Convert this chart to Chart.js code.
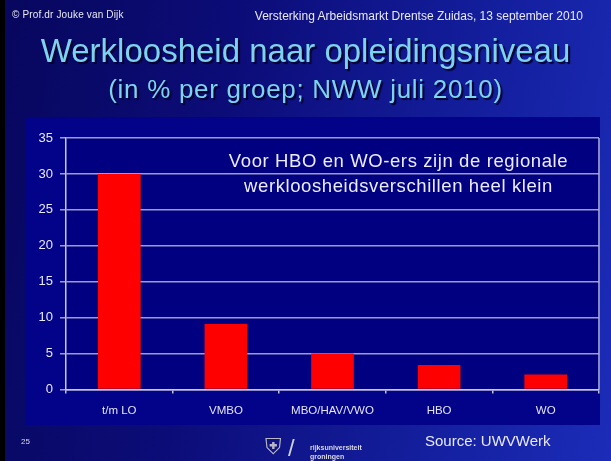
<!DOCTYPE html>
<html>
<head>
<meta charset="utf-8">
<script src="https://cdn.jsdelivr.net/npm/chart.js@4/dist/chart.umd.min.js"></script>
<style>
  html,body{margin:0;padding:0;}
  body{width:611px;height:461px;overflow:hidden;position:relative;font-family:"Liberation Sans",Arial,sans-serif;
    background:linear-gradient(100deg,#07075e 0%,#0c0c78 35%,#1420a0 75%,#1c2cb8 100%);}
  #strip{position:absolute;left:0;top:0;width:5px;height:461px;background:#000;}
  #panel{position:absolute;left:25px;top:117px;width:575px;height:308px;background:#03038a;}
  canvas{position:absolute;left:0;top:0;}
  .t{position:absolute;white-space:nowrap;}
  #hl{left:12px;top:9px;font-size:10px;letter-spacing:0.15px;color:#e8e8f4;}
  #hr{right:28px;top:9px;font-size:12px;color:#e8e8f4;}
  #t1{left:0;width:611px;text-align:center;top:34px;font-size:33px;line-height:33px;color:#7dd3ee;text-shadow:2px 2px 1px #000030;}
  #t2{left:0;width:611px;text-align:center;top:76px;font-size:26px;line-height:26px;letter-spacing:0.7px;color:#7dd3ee;text-shadow:2px 2px 1px #000030;}
  #note{left:190px;width:417px;text-align:center;top:148px;font-size:18.5px;line-height:25px;letter-spacing:0.6px;color:#ececff;}
  #pg{left:21px;top:437px;font-size:8px;color:#d8d8f0;}
  #src{left:425px;top:432px;font-size:15px;color:#e8e8ff;}
  #shield{left:265px;top:436px;font-size:22px;line-height:22px;color:#b8b8c4;}
  #slash{left:288px;top:436px;font-size:24px;line-height:24px;color:#d0d0dc;}
  #lt{left:310px;top:443px;font-size:7px;line-height:9px;font-weight:bold;color:#d8d8e4;}
</style>
</head>
<body>
<div id="strip"></div>
<div id="panel"></div>
<canvas id="c" width="611" height="461"></canvas>
<div class="t" id="hl">© Prof.dr Jouke van Dijk</div>
<div class="t" id="hr">Versterking Arbeidsmarkt Drentse Zuidas, 13 september 2010</div>
<div class="t" id="t1">Werkloosheid naar opleidingsniveau</div>
<div class="t" id="t2">(in % per groep; NWW juli 2010)</div>
<div class="t" id="note">Voor HBO en WO-ers zijn de regionale<br>werkloosheidsverschillen heel klein</div>
<div class="t" id="pg">25</div>
<div class="t" id="shield">&#9960;</div>
<div class="t" id="slash">/</div>
<div class="t" id="lt">rijksuniversiteit<br>groningen</div>
<div class="t" id="src">Source: UWVWerk</div>
<script>
const categories = ["t/m LO", "VMBO", "MBO/HAV/VWO", "HBO", "WO"];
const values = [30.0, 9.1, 5.0, 3.4, 2.1];
const yTicks = [0, 5, 10, 15, 20, 25, 30, 35];

const rightBorder = {
  id: 'rightBorder',
  beforeDraw(chart) {
    const {ctx, chartArea:a} = chart;
    ctx.save();
    ctx.fillStyle = '#000080';
    ctx.fillRect(a.left, a.top, a.right - a.left, a.bottom - a.top);
    ctx.restore();
  },
  afterDatasetsDraw(chart) {
    const {ctx, chartArea:a} = chart;
    ctx.save();
    ctx.strokeStyle = '#b4b4dc';
    ctx.lineWidth = 1.5;
    ctx.beginPath();
    ctx.moveTo(a.right, a.top);
    ctx.lineTo(a.right, a.bottom);
    ctx.stroke();
    ctx.restore();
  }
};

new Chart(document.getElementById('c'), {
  type: 'bar',
  data: {
    labels: categories,
    datasets: [{ data: values, backgroundColor: '#ff0000', borderWidth: 0,
      categoryPercentage: 1.0, barPercentage: 0.4 }]
  },
  options: {
    responsive: false,
    animation: false,
    devicePixelRatio: 1,
    layout: { padding: { left: 0, top: 138, right: 12, bottom: 0 } },
    plugins: { legend: { display: false }, tooltip: { enabled: false } },
    scales: {
      x: {
        offset: true,
        grid: { display: true, drawOnChartArea: false, drawTicks: true, tickLength: 4,
          offset: true, color: '#c0c0e0', lineWidth: 1.5 },
        border: { display: true, color: '#c8c8e6', width: 1.5 },
        ticks: { color: '#e4e4f4', font: { family: 'Liberation Sans', size: 11.5 }, padding: 10, maxRotation: 0 },
        afterFit(s) { s.height = 461 - 389.5; }
      },
      y: {
        min: 0, max: 35,
        afterBuildTicks(s) { s.ticks = yTicks.map(v => ({ value: v })); },
        grid: { color: '#9c9cd0', lineWidth: 1.5, drawTicks: true, tickLength: 6 },
        border: { display: true, color: '#c8c8e6', width: 1.5 },
        ticks: { color: '#e8e8f6', font: { family: 'Liberation Sans', size: 13 }, padding: 7 },
        afterFit(s) { s.width = 66; }
      }
    }
  },
  plugins: [rightBorder]
});
</script>
</body>
</html>
